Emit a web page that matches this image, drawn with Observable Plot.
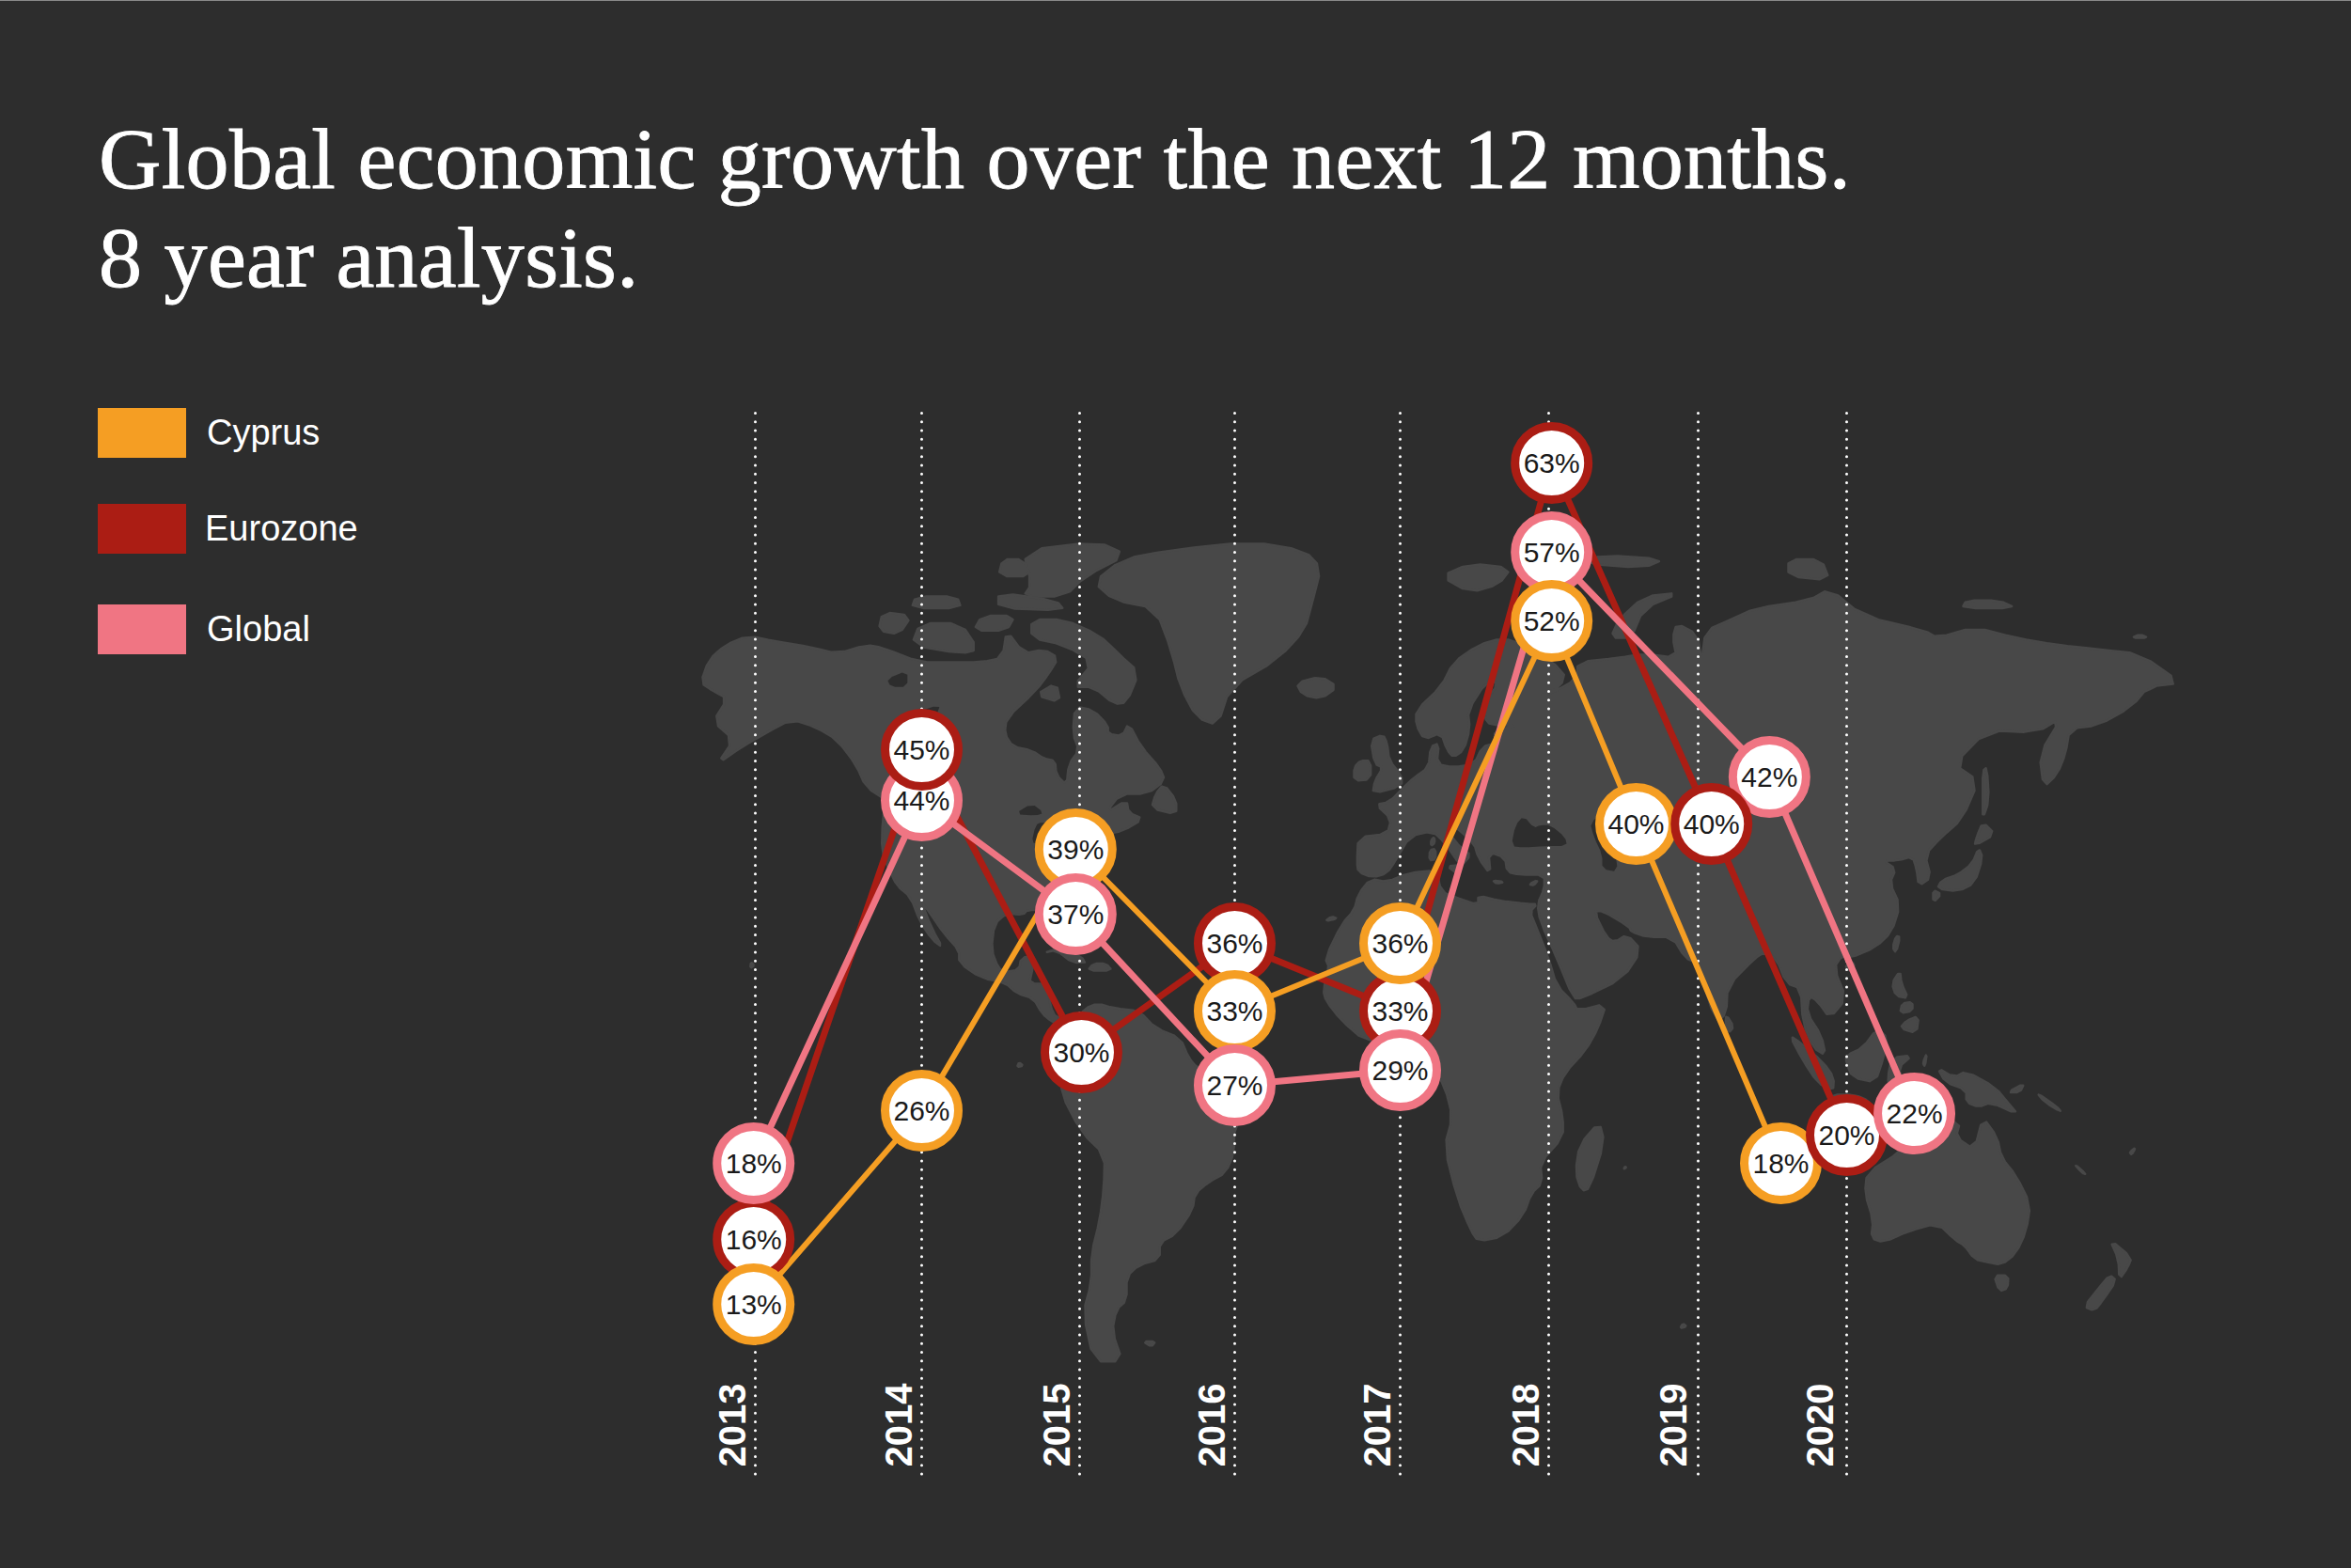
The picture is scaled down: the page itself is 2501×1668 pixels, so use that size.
<!DOCTYPE html>
<html>
<head>
<meta charset="utf-8">
<script src="https://cdn.jsdelivr.net/npm/d3@7"></script>
<script src="https://cdn.jsdelivr.net/npm/@observablehq/plot@0.6"></script>
<style>
html,body{margin:0;padding:0;background:#2d2d2d;}
#page{position:relative;width:2501px;height:1668px;overflow:hidden;background:#2d2d2d;border-top:0;}
#page>svg,#page>figure{position:absolute;left:0;top:0;margin:0;}
#edge{position:absolute;left:0;top:0;width:2501px;height:1px;background:#8a8a8a;}
h1{position:absolute;left:105px;top:117px;margin:0;color:#fff;font:400 92px/105px "Liberation Serif",serif;letter-spacing:.3px;white-space:nowrap;-webkit-text-stroke:0.9px #fff;}
.sw{position:absolute;left:104px;width:94px;height:53px;}
.lb{position:absolute;color:#fff;font:400 38px/44px "Liberation Sans",Arial,sans-serif;}
</style>
</head>
<body>
<div id="page"></div>
<script>
// ---------- Chart data ----------
const titleLines = ["Global economic growth over the next 12 months.", "8 year analysis."];
const years    = [2013, 2014, 2015, 2016, 2017, 2018, 2019, 2020];
const seriesNames = ["Cyprus", "Eurozone", "Global"];
const cyprus   = [13, 26, 39, 33, 36, 52, 40, 18];
const eurozone = [16, 45, 30, 36, 33, 63, 40, 20];
const global_  = [18, 44, 37, 27, 29, 57, 42, 22];
// The original places bubbles by hand: sideways shift (in years) of each bubble
const cyprusShift   = [-0.01, 0, -0.025, 0, 0, 0.02, -0.415, -0.443];
const eurozoneShift = [-0.01, 0, 0.012, 0, 0, 0.02, 0.09, 0];
const globalShift   = [-0.01, 0, -0.025, 0, 0, 0.02, 0.48, 0.456];
// 44% sits lower than the 42% bubble in the original
const globalLevelNudge = [0, -3, 0, 0, 0, 0, 0, 0];
// Year labels sit a little further from their rules at the right-hand end
const yearLabelShift = [0, 0, 0, 0, 0, 0, -0.015, -0.03];
// Which series is on top in each year's stack, bottom first
const stacking = [
  ["Eurozone", "Global", "Cyprus"], ["Global", "Eurozone", "Cyprus"],
  ["Cyprus", "Global", "Eurozone"], ["Eurozone", "Cyprus", "Global"],
  ["Eurozone", "Cyprus", "Global"], ["Eurozone", "Global", "Cyprus"],
  ["Cyprus", "Global", "Eurozone"], ["Cyprus", "Eurozone", "Global"]
];
const colors = ["#f59e23", "#ab1d14", "#f07583"];
// Levels of the (non-uniform) vertical scale of the original
const levelKnots = [0, 13, 16, 18, 20, 22, 26, 27, 29, 30, 33, 36, 37, 39, 40, 42, 45, 52, 57, 63, 66];

// ---------- Background map: [lon, lat] rings ----------
const landRings = [
// North America
[[-168,65.5],[-166,68.3],[-162,70],[-156.5,71.3],[-150,70.5],[-141,69.7],[-135,69],[-128,70],[-124,69.7],[-115,68],[-108,68],[-100,68],[-95,68.5],[-94,72],[-90,69],[-85,69.5],[-81.5,68.5],[-84,66.5],[-87,64.5],[-94,61],[-94.5,58.8],[-92.5,57],[-88,56.5],[-85,55.3],[-82.3,55],[-82,52.9],[-79.5,51.3],[-79,54.5],[-76.5,56.5],[-78,58.8],[-77.5,62.5],[-73,62],[-69.5,60],[-69.5,58.8],[-66,58.5],[-64.5,60.3],[-61.5,57],[-57,54],[-55.7,52],[-60,50],[-66.5,50],[-70,47],[-65,49],[-64.5,47],[-61,46],[-66,44],[-70,43.5],[-70.5,41.7],[-74,40.5],[-76,37],[-75.7,35.3],[-78,33.8],[-81,31.8],[-80,27],[-80.3,25.3],[-81.7,26],[-82.8,28.5],[-84,30],[-89,30.2],[-90,29.2],[-94,29.5],[-97,27.5],[-97.7,22.5],[-96,19],[-94.5,18.2],[-91,18.7],[-90.5,21],[-87,21.5],[-88,18],[-88.5,16],[-84,15.8],[-83.5,11.5],[-82,9],[-79.5,9.5],[-77.3,8.5],[-78,7.5],[-80.5,7.3],[-83,8.3],[-85.5,10],[-87.5,13],[-91.5,14],[-94.5,16.2],[-100,17],[-105.5,20],[-105.5,22.5],[-109,25.5],[-112.5,29.5],[-114.7,31.7],[-112,26.5],[-109.5,23],[-112,24.5],[-115,28],[-117.2,32.5],[-120.5,34.5],[-122.5,37.5],[-124.2,40.5],[-124,46],[-123,49],[-128,51],[-130.5,54.5],[-135,58],[-140,59.7],[-146,60.8],[-152,59],[-158,57],[-164,54.5],[-160,58],[-165,60.5],[-161.5,63.5],[-165,64.5]],
// South America
[[-77.3,8.5],[-75,11],[-72,12],[-68,11],[-62,10.5],[-58,7],[-52,5],[-50,1],[-48,-1],[-44,-2.5],[-38,-4],[-35,-6],[-35,-9],[-39,-13],[-39,-18],[-41,-22],[-45,-23.7],[-48.5,-26],[-49,-29],[-53,-33.5],[-57,-35],[-57,-38],[-62,-39],[-65,-41],[-65,-45],[-67.5,-46.5],[-68.5,-50],[-66,-54.5],[-73,-54.5],[-75.5,-47],[-73.5,-42],[-73.5,-37],[-71.5,-31],[-70.5,-25],[-70.3,-18.5],[-76,-14],[-81,-6],[-80,-2.5],[-80,1],[-77.5,4],[-77.5,7]],
// Africa
[[-6,35.8],[-2,35.2],[3,36.8],[10,37.3],[11,33.5],[15,32.3],[20,31],[20,32.8],[25,31.8],[32,31.2],[34.3,31.2],[32.5,29.8],[34,27],[37,21],[39,15.5],[43.2,12],[44,10.5],[51,12],[49,7],[46,2.5],[41,-2],[39,-6],[40.5,-11],[40.5,-15],[35,-20],[35.5,-24],[32.8,-26],[31,-30],[26,-34],[20,-34.8],[18.3,-33],[15,-27],[11.8,-17],[13.8,-11],[12,-5],[9,-1],[9.8,3.5],[8,4.5],[4.5,6.3],[-2,5],[-7.5,4.5],[-13,8.5],[-16.8,12.5],[-17.5,14.7],[-16,19],[-17,21],[-13,27.5],[-10,30],[-9,33]],
// Eurasia
[[-9,37],[-9.3,38.7],[-9,43],[-2,43.5],[-1,46],[-4.7,48.3],[-1.5,48.7],[2,51],[4.5,52.5],[8,54],[8.5,57],[10.5,57.5],[10,54.5],[14,54],[19,54.5],[21,57],[24,57.5],[24,59.3],[30,60],[23,60],[21.5,61],[21.5,63],[25,65.5],[22,65.7],[17.5,62],[18,59.5],[16.5,56.5],[14,55.5],[12.5,56.5],[11,59],[7,58],[5,60],[5,62],[11,65],[14,68],[20,70],[26,71],[31,70],[41,67],[40,65],[35,64],[37,64],[44,66],[44,68],[54,68.5],[60,69],[68,68.5],[67,71],[68,73],[73,71.5],[74,68],[75,72],[81,73.5],[87,75],[100,76],[105,77.5],[113,74],[128,72],[131,71],[140,72.5],[150,71],[160,70],[170,69.5],[180,69],[190,65.5],[182,65],[178,62.5],[170,60],[163,59.5],[162,56],[160,53],[156.7,51],[155.7,56],[161,61],[155,59],[143,59.3],[135,54.5],[141,52],[137,46],[132,43],[128,40],[129.5,36],[126.5,34.5],[126,37.5],[125,39.7],[121.5,39],[118,39],[121,37.5],[119.5,35],[122,31],[120,26],[116,23],[110,21],[108,21.5],[106,19],[109,13],[105,9],[102,12.5],[100,13.5],[99.5,10],[103,5.5],[104,1.5],[101,3],[98.5,8],[98,15],[94.5,16],[92,21],[89,22],[87,21],[80.3,15.5],[80,10],[77.5,8],[73,20],[70,21],[67,25],[61,25],[57,26],[56.5,27],[50,30],[48,29.8],[51,25],[53,24],[56,25.5],[59.5,22.5],[55,17],[45,13],[43,13],[39,21],[35,28],[34.3,31.2],[36,34],[36,36.5],[30,36.5],[27,37],[26.5,39.5],[22.5,40.5],[23,36.5],[20,39.5],[19,42],[14,45],[12.5,44],[16,41],[18.3,40],[15.8,38],[12,42],[9,44],[3.5,43.2],[0,39],[-2,36.8],[-5.5,36]],
// Arctic and Greenland
[[-73,78.3],[-66,81],[-55,82],[-35,83],[-22,82],[-18,80],[-20,76],[-22,72],[-28,68.5],[-40,65],[-43,60],[-48,61],[-52,65],[-54,69],[-58,75],[-68,76]],
[[-80,73.5],[-72,71.5],[-67,69],[-62,66.8],[-65,63],[-68,62.8],[-73,65],[-78,65],[-73,68],[-80,70],[-88,71],[-88,73.5]],
[[-117,70],[-105,69],[-101,69.5],[-105,73],[-115,73]],
[[-90,76.5],[-80,76.5],[-75,79],[-65,81.5],[-72,83],[-90,82],[-88,78]],
[[-125,72],[-120,71.5],[-117,74],[-124,74.5]],
[[-96,75],[-80,74.7],[-82,76],[-96,77]],
[[-117,75],[-105,75],[-106,76.5],[-116,76.5]],
[[-96,79],[-88,79],[-90,81],[-95,81]],
[[-102,72],[-94,72],[-92,74],[-100,74]],
[[-59,47.7],[-53,46.7],[-53,49],[-56,51.5],[-58,50]],
[[-87,64],[-81,63],[-82,65.5]],
[[-85,22],[-80,23],[-74.2,20.2],[-78,20],[-82,22.5]],
[[-74.4,18.5],[-68.5,18.5],[-70,19.9],[-73,19.9]],
[[-24,65.5],[-18,66.3],[-14,65],[-18,63.5],[-22.5,64]],
[[-5.5,50],[1.5,51.2],[1.5,52.8],[-1.5,55],[-2,57.5],[-3,58.7],[-6,58],[-5,54.5],[-3,54],[-5,52]],
[[-10,52],[-6,52.2],[-6,55],[-8.5,55],[-10,54]],
[[11,79],[18,77],[25,78],[28,80],[18,80.5]],
[[52,71],[57,71],[60,75],[69,77],[60,76.5],[54,73.5]],
[[95,79],[105,78.5],[103,81],[95,81]],
[[45,80.5],[60,80],[65,81],[50,81.5]],
[[137,75],[150,75],[146,76],[138,76]],
[[178,71],[182,71],[180,71.5]],
// Asia-Pacific islands
[[142,46],[143.5,49],[143,54],[142,53.5],[142,49]],
[[140,41.5],[145,43.5],[142,45.5],[140.5,43]],
[[131,34],[136,33.5],[140,35],[142,39.5],[141,41.2],[139.5,38.5],[136,36.5],[132,35.5]],
[[130,31.5],[132,33],[130,33.8]],
[[120.2,23],[121,22],[122,25],[121,25.2]],
[[108.8,19],[110.5,18.3],[111,20],[109.5,20]],
[[120,16],[122,18.5],[122.3,16],[124,13],[121,13.5]],
[[122,7],[126,6],[126.5,9.5],[123.5,8.5]],
[[122,10],[125,10.5],[125,12.3],[122.5,12]],
[[95.3,5.5],[98,4],[103.5,0],[106,-3],[105.8,-5.8],[102,-4],[98.5,0.5]],
[[105.5,-6.5],[111,-6.5],[114.5,-7.7],[114,-8.7],[106.5,-7.5]],
[[116,-8.5],[125,-8.5],[124,-10],[117,-9]],
[[109,1.5],[113,3],[116.5,7],[119,5],[118,1],[116,-4],[110.5,-3],[109,0]],
[[119.5,-5.5],[120.5,-2.5],[122,-5],[123,-4],[121.5,-1],[125,1.5],[120,1],[119,-3]],
[[131,-1],[135,-3],[138,-1.7],[145,-5],[148,-8],[150.5,-10.5],[144,-8],[141,-9],[138,-8],[138,-5.5],[133,-4]],
[[127.5,0],[128.5,2],[128,-0.8]],
[[148,-6],[152,-4.2],[151,-6]],
[[155,-6],[160,-9],[161,-10],[157,-8]],
[[164,-20.2],[167,-22.3],[166,-22]],
[[177.5,-18],[179,-17],[178,-18.5]],
// Australasia
[[114,-22],[122,-18],[125,-14.5],[129,-15],[131,-12],[136.5,-12],[135.5,-15],[140,-17.5],[142,-11],[145.5,-15],[146.5,-19],[150,-22.5],[153.5,-28],[152.5,-33],[150,-37],[146.5,-39],[143,-38.5],[140,-38],[137.5,-35.5],[135.5,-34.7],[131,-31.5],[124,-33],[118,-35],[115,-34.3],[115.5,-31],[113.5,-26]],
[[144.7,-40.8],[148.2,-40.8],[148,-43],[146,-43.5]],
[[172.7,-34.5],[178,-37.7],[177,-39.5],[175,-41.5],[174.8,-38]],
[[172.7,-40.7],[174.3,-41.7],[171,-45],[169,-46.7],[166.5,-46],[170,-43]],
// Indian Ocean and small islands
[[49.3,-12],[50.5,-16],[47,-25],[45,-25.5],[43.5,-22],[44.5,-16.5]],
[[80,9.7],[81.8,7.3],[80.5,6],[79.8,8]],
[[8.2,39],[9.7,39.2],[9.7,41],[8.3,40.8]],
[[8.6,41.5],[9.5,42],[9.4,43],[8.6,42.5]],
[[12.5,38],[15.6,38.2],[15,36.7]],
[[23.5,35.5],[26.3,35.2],[24.5,34.9]],
[[32.3,34.8],[34.5,35.6],[33.5,34.6]],
[[-156,19],[-155,19.5],[-155.8,20.2]],
[[-91.5,-0.9],[-90,-0.6],[-91,0.1]],
[[-61,-51.5],[-58,-51.5],[-59,-52.3]],
[[68.8,-49.5],[70.4,-49.2],[69.5,-48.7]],
[[55.2,-21.3],[55.8,-21],[55.5,-20.8]],
[[-17,28],[-14,28.5],[-15.5,28.9]]
];
const waterRings = [
[[28,41.5],[31,41.2],[36,41.5],[41.5,41.5],[41,43],[37.5,45],[35,45],[33.5,44.5],[31,46.5],[29,45]],
[[50,37.5],[53.8,37],[53,41],[53,45],[51,47],[47,45.5],[48,43],[50,40]],
[[-92,46.8],[-88,48.5],[-85,47],[-87,46.5]],
[[-88,42],[-86,42],[-84.5,46],[-80,45],[-82,43],[-83.5,45],[-85.5,45.5],[-87,45]],
[[-83,41.6],[-79,42.8],[-76.5,43.6],[-79.5,43.4],[-83,42.2]],
[[-123,66],[-118,67],[-118,65],[-122,65]],
[[-117,61.5],[-110,62.8],[-111,61.3]]
];

// ---------- Build ----------
const shifts = {Cyprus: cyprusShift, Eurozone: eurozoneShift, Global: globalShift};
const values = {Cyprus: cyprus, Eurozone: eurozone, Global: global_};
const rows = seriesNames.flatMap(name => years.map((year, i) => ({
  name, year, value: values[name][i],
  at: year + shifts[name][i],
  level: values[name][i] + (name === "Global" ? globalLevelNudge[i] : 0),
  rank: i * 10 + stacking[i].indexOf(name)
})));
const stacked = d3.sort(rows, d => d.rank);
const colorScale = {domain: seriesNames, range: colors};

// Soften the hand-drawn coastlines by cutting their corners once
const soften = ring => ring.flatMap((p, i) => {
  const q = ring[(i + 1) % ring.length];
  return [[0.75 * p[0] + 0.25 * q[0], 0.75 * p[1] + 0.25 * q[1]], [0.25 * p[0] + 0.75 * q[0], 0.25 * p[1] + 0.75 * q[1]]];
});
const poly = r => {
  const s = soften(r);
  return {type: "Polygon", coordinates: [[...s, s[0]]]};
};
const northEase = lat => lat > 70 ? 70 + (lat - 70) * 0.8 : lat;
const millerY = lat => 1.25 * Math.log(Math.tan(Math.PI / 4 + 0.4 * northEase(lat) * Math.PI / 180));

const mapProjection = d3.geoTransform({
  point(lon, lat) { this.stream.point(1484 + 4.4 * lon, 1130 - 300 * millerY(lat)); }
});
const mapPlot = Plot.plot({
  width: 2501, height: 1668, margin: 0,
  projection: mapProjection,
  style: {background: "transparent"},
  marks: [
    Plot.geo(landRings.map(poly), {fill: "#484848", stroke: "#484848", strokeWidth: 2.5, strokeLinejoin: "round"}),
    Plot.geo(waterRings.map(poly), {fill: "#2d2d2d"})
  ]
});

const chartPlot = Plot.plot({
  width: 2501, height: 1668, margin: 0,
  style: {background: "transparent"},
  x: {type: "linear", domain: years, range: [803, 980, 1148, 1313, 1489, 1647, 1806, 1964], axis: null},
  y: {type: "linear", domain: levelKnots, range: [1568, 1387, 1318, 1237, 1207, 1184, 1181, 1154, 1138, 1119, 1075, 1003, 972, 903, 876, 826, 797, 660, 587, 492, 435], axis: null},
  color: colorScale,
  marks: [
    Plot.ruleX(years, {x: d => d, y1: 0, y2: 66, stroke: "#fff", strokeWidth: 3, strokeDasharray: "0 9.25", strokeLinecap: "round"}),
    Plot.text(years, {x: (d, i) => d + yearLabelShift[i], y: 0, dx: -23, dy: -8, text: d => String(d), rotate: -90, textAnchor: "start", fill: "#fff", fontFamily: "Liberation Sans, Arial, sans-serif", fontWeight: 700, fontSize: 40}),
    Plot.line(rows.filter(d => d.name === "Eurozone"), {x: "at", y: "level", stroke: "name", strokeWidth: 7, curve: "linear"}),
    Plot.line(rows.filter(d => d.name === "Global"), {x: "at", y: "level", stroke: "name", strokeWidth: 7, curve: "linear"}),
    Plot.line(rows.filter(d => d.name === "Cyprus"), {x: "at", y: "level", stroke: "name", strokeWidth: 6, curve: "linear"}),
    Plot.dot(stacked, {x: "at", y: "level", r: 39, fill: "#fff", stroke: "name", strokeWidth: 9}),
    Plot.text(stacked, {x: "at", y: "level", dy: 1, text: d => d.value + "%", fill: "#1a1a1a", fontFamily: "Liberation Sans, Arial, sans-serif", fontSize: 30})
  ]
});

const page = document.getElementById("page");
page.append(mapPlot, chartPlot);

const edge = document.createElement("div"); edge.id = "edge"; page.append(edge);
const h1 = document.createElement("h1");
h1.innerHTML = titleLines.join("<br>");
page.append(h1);
const swatchTops = [434, 536, 643], labelTops = [438, 540, 647], labelLefts = [220, 218, 220];
seriesNames.forEach((name, i) => {
  const s = document.createElement("div"); s.className = "sw";
  s.style.top = swatchTops[i] + "px"; s.style.background = colors[i]; page.append(s);
  const l = document.createElement("div"); l.className = "lb"; l.textContent = name;
  l.style.top = labelTops[i] + "px"; l.style.left = labelLefts[i] + "px"; page.append(l);
});
</script>
</body>
</html>
